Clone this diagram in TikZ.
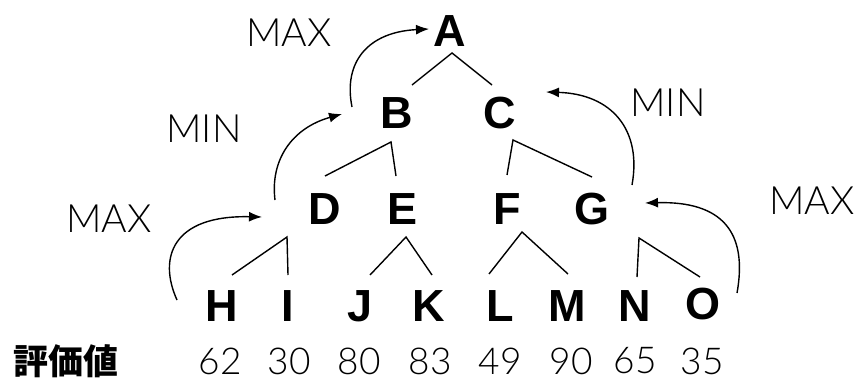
\documentclass[tikz,border=0pt]{standalone}
\usepackage{fontspec}
\usetikzlibrary{arrows.meta}
\setmainfont{Liberation Sans}
\IfFontExistsTF{Lato Light}{\newfontfamily\lightfont{Lato Light}}{\newfontfamily\lightfont{Liberation Sans}}
\newfontfamily\cjk{Noto Sans CJK JP}
\tikzset{
  letter/.style={inner sep=0pt, font=\fontsize{45}{50}\selectfont\bfseries},
  lab/.style={inner sep=0pt, font=\fontsize{39}{44}\selectfont\lightfont},
  val/.style={inner sep=0pt, font=\fontsize{37}{42}\selectfont\lightfont},
  edge/.style={line width=1.4pt},
  flow/.style={line width=1.4pt, -{Latex[length=13pt,width=10pt]}}
}
\begin{document}
\begin{tikzpicture}[x=1pt,y=-1pt]
\useasboundingbox (0,0) rectangle (858,379);
% letters
\node[letter] (A) at (450,31) {A};
\node[letter] (B) at (397,113) {B};
\node[letter] (C) at (500,113) {C};
\node[letter] (D) at (325,209) {D};
\node[letter] (E) at (403,209) {E};
\node[letter] (F) at (507,209) {F};
\node[letter] (G) at (592,209) {G};
\node[letter] (H) at (222,306) {H};
\node[letter] (I) at (288,306) {I};
\node[letter] (J) at (360,306) {J};
\node[letter] (K) at (429,306) {K};
\node[letter] (L) at (500,306) {L};
\node[letter] (M) at (567,306) {M};
\node[letter] (N) at (635,306) {N};
\node[letter] (O) at (703,304) {O};
% labels
\node[lab] (maxtop) at (289,33) {MAX};
\node[lab] (minl) at (204,129) {MIN};
\node[lab] (minr) at (668,103) {MIN};
\node[lab] (maxl) at (109,219) {MAX};
\node[lab] (maxr) at (812,201) {MAX};
% values
\node[inner sep=0pt, font=\fontsize{35}{40}\selectfont\cjk\bfseries] (hyoka) at (66,361) {評価値};
\node[val] (v1) at (220,361) {62};
\node[val] (v2) at (289,361) {30};
\node[val] (v3) at (359,361) {80};
\node[val] (v4) at (430,361) {83};
\node[val] (v5) at (500,361) {49};
\node[val] (v6) at (571,361) {90};
\node[val] (v7) at (635,361) {65};
\node[val] (v8) at (702,361) {35};
% tree edge points
\coordinate (a0) at (452,53);  \coordinate (a1) at (412,85);  \coordinate (a2) at (492,85);
\coordinate (b0) at (391,142); \coordinate (b1) at (325,176); \coordinate (b2) at (396,176);
\coordinate (c0) at (513,140); \coordinate (c1) at (507,175); \coordinate (c2) at (592,177);
\coordinate (d0) at (287,237); \coordinate (d1) at (232,275); \coordinate (d2) at (288,275);
\coordinate (e0) at (406,237); \coordinate (e1) at (370,275); \coordinate (e2) at (432,275);
\coordinate (f0) at (522,232); \coordinate (f1) at (489,274); \coordinate (f2) at (568,274);
\coordinate (g0) at (639,238); \coordinate (g1) at (637,277); \coordinate (g2) at (700,277);
\foreach \p in {a,b,c,d,e,f,g}{
  \draw[edge] (\p1) -- (\p0) -- (\p2);
}
% flow arrows
\coordinate (s1) at (177,300); \coordinate (t1) at (262,217);
\coordinate (s2) at (275,200); \coordinate (t2) at (342,114);
\coordinate (s3) at (352,107); \coordinate (t3) at (429,29);
\coordinate (s4) at (632,185); \coordinate (t4) at (546,92);
\coordinate (s5) at (737,293); \coordinate (t5) at (645,203);
\draw[flow] (s1) .. controls (158,258) and (172,215) .. (t1);
\draw[flow] (s2) .. controls (270,160) and (292,128) .. (t2);
\draw[flow] (s3) .. controls (343,62) and (368,32) .. (t3);
\draw[flow] (s4) .. controls (642,130) and (612,94) .. (t4);
\draw[flow] (s5) .. controls (748,232) and (722,201) .. (t5);
\end{tikzpicture}
\end{document}
